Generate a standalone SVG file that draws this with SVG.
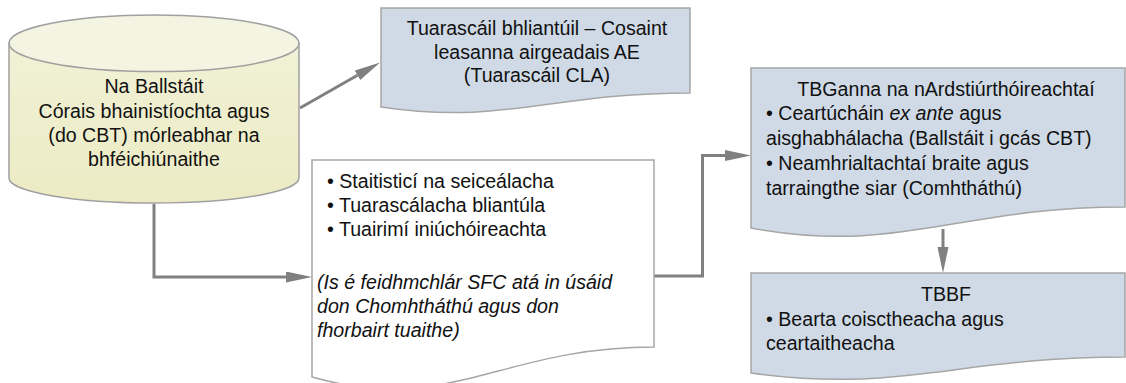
<svg xmlns="http://www.w3.org/2000/svg" width="1126" height="383" viewBox="0 0 1126 383">
  <defs>
    <linearGradient id="cylBody" x1="0" y1="0" x2="0" y2="1">
      <stop offset="0" stop-color="#f1f1d6"/>
      <stop offset="1" stop-color="#ecebc4"/>
    </linearGradient>
    <marker id="arrow" markerUnits="userSpaceOnUse" markerWidth="27" markerHeight="12" refX="0" refY="5.5" orient="auto" viewBox="0 0 27 12">
      <path d="M0,0 L26,5.5 L0,11 z" fill="#808080"/>
    </marker>
    <style>
      .t { font-family: "Liberation Sans", Arial, sans-serif; font-size: 19.6px; fill: #111; }
      .c { text-anchor: middle; }
      .i { font-style: italic; }
      .blue { fill: #cfdae6; stroke: #a6a6a6; stroke-width: 1.5; }
      .white { fill: #ffffff; stroke: #a6a6a6; stroke-width: 1.5; }
      .conn { fill: none; stroke: #808080; stroke-width: 3; marker-end: url(#arrow); }
    </style>
  </defs>

  <g id="connectors">
    <path class="conn" d="M300,108 L357.5,75.3"/>
    <path class="conn" d="M154,204 V277 H286"/>
    <path class="conn" d="M654,276 H702.5 V155.5 H725"/>
    <path class="conn" d="M943,229 V247"/>
  </g>

  <g id="node-ballstait">
    <path d="M9,43 V178 A145,25 0 0 0 299,178 V43 Z" fill="url(#cylBody)" stroke="#a0a0a0" stroke-width="1.5"/>
    <ellipse cx="154" cy="43.3" rx="145" ry="28.3" fill="#f4f4e2" stroke="#a0a0a0" stroke-width="1.5"/>
    <text class="t c" x="154" y="93">Na Ballstáit</text>
    <text class="t c" x="154" y="117.5">Córais bhainistíochta agus</text>
    <text class="t c" x="154" y="142">(do CBT) mórleabhar na</text>
    <text class="t c" x="154" y="166">bhféichiúnaithe</text>
  </g>

  <g id="node-tuarascail">
    <path class="blue" d="M381,8 H690 V93 C551,93 504.6,125.2 381,107 Z"/>
    <text class="t c" x="537" y="35">Tuarascáil bhliantúil – Cosaint</text>
    <text class="t c" x="537" y="58.5">leasanna airgeadais AE</text>
    <text class="t c" x="537" y="82">(Tuarascáil CLA)</text>
  </g>

  <g id="node-staitistici">
    <path class="white" d="M312,160 H654 V347 C500,347 449,416 312,377 Z"/>
    <text class="t" x="327" y="188">• Staitisticí na seiceálacha</text>
    <text class="t" x="327" y="212">• Tuarascálacha bliantúla</text>
    <text class="t" x="327" y="236">• Tuairimí iniúchóireachta</text>
    <text class="t i" x="317" y="289">(Is é feidhmchlár SFC atá in úsáid</text>
    <text class="t i" x="317" y="313">don Chomhtháthú agus don</text>
    <text class="t i" x="317" y="337">fhorbairt tuaithe)</text>
  </g>

  <g id="node-tbganna">
    <path class="blue" d="M751,68 H1125 V207 C956.7,207 900.6,255.3 751,228 Z"/>
    <text class="t c" x="946" y="96">TBGanna na nArdstiúrthóireachtaí</text>
    <text class="t" x="766" y="120">• Ceartúcháin <tspan class="i">ex ante</tspan> agus</text>
    <text class="t" x="766" y="145">aisghabhálacha (Ballstáit i gcás CBT)</text>
    <text class="t" x="766" y="170">• Neamhrialtachtaí braite agus</text>
    <text class="t" x="766" y="195">tarraingthe siar (Comhtháthú)</text>
  </g>

  <g id="node-tbbf">
    <path class="blue" d="M751,273 H1125 V357 C956.7,357 900.6,393.8 751,373 Z"/>
    <text class="t c" x="946" y="301">TBBF</text>
    <text class="t" x="766" y="326">• Bearta coisctheacha agus</text>
    <text class="t" x="766" y="350">ceartaitheacha</text>
  </g>
</svg>
